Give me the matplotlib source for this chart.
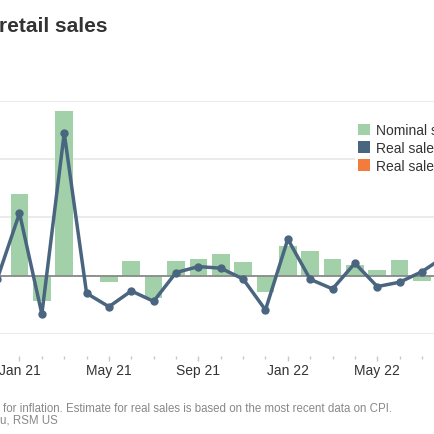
import matplotlib
matplotlib.use("Agg")
import matplotlib.pyplot as plt
from matplotlib.patches import Patch
import matplotlib.ticker as mticker

plt.rcParams['font.family'] = ['Liberation Sans', 'DejaVu Sans']

# Months indexed from Jan 2021 = 0
months = list(range(-1, 20))  # Dec 20 .. Aug 22
nominal = [-0.1, 5.56, -1.76, 11.25, 0.05, -0.41, 0.99, -1.51, 0.99, 1.12,
           1.49, 0.92, -1.12, 2.04, 1.72, 1.17, 0.75, 0.39, 1.06, -0.38, 0.3]
real = [-0.25, 4.28, -2.63, 9.77, -1.21, -2.13, -1.05, -1.76, 0.21, 0.62,
        0.51, -0.23, -2.35, 2.50, -0.25, -0.91, 0.85, -0.75, -0.45, 0.27, 1.3]
estimate_month = [19]
estimate_value = [1.3]

tick_pos = [0, 4, 8, 12, 16]
tick_labels = ['Jan 21', 'May 21', 'Sep 21', 'Jan 22', 'May 22']
yticks = [-4, 0, 4, 8, 12]

W = H = 435
fig = plt.figure(figsize=(4.35, 4.35), dpi=100)
fig.patch.set_facecolor('white')

top_px, bot_px = 101.5, 335.0
ax = fig.add_axes([0, 1 - bot_px / H, 1, (bot_px - top_px) / H])

green = '#a2d1a9'
blue = '#4a6580'
orange = '#f47b3c'

ax.bar(months, nominal, width=0.79, color=green, zorder=2)
ax.axhline(0, color='#8a8a8a', linewidth=1.3, zorder=3)
ax.plot(months, real, color=blue, linewidth=2.5, marker='o', markersize=5,
        zorder=4)
ax.plot(estimate_month, estimate_value, 'o', color=orange, markersize=5, zorder=5)

ax.set_yticks(yticks)
ax.yaxis.grid(True, color='#e8e8e8', linewidth=1.2)
ax.set_axisbelow(True)
ax.tick_params(axis='y', left=False, labelleft=False)

for s in ['top', 'left', 'right']:
    ax.spines[s].set_visible(False)
ax.spines['bottom'].set_position(('outward', 15.5))
ax.spines['bottom'].set_visible(False)

ax.set_xticks(tick_pos)
ax.set_xticklabels(tick_labels, fontsize=10, color='#333333')
ax.xaxis.set_minor_locator(mticker.MultipleLocator(1))
ax.tick_params(axis='x', which='major', length=3.5, width=1, color='#c8c8c8', pad=2)
ax.tick_params(axis='x', which='minor', length=2, width=1, color='#c8c8c8')

ax.set_xlim(-19.5 / 22.36, (435 - 19.5) / 22.36)
ax.set_ylim(-4, 12)

handles = [Patch(facecolor=green, edgecolor='none'),
           Patch(facecolor=blue, edgecolor='none'),
           Patch(facecolor=orange, edgecolor='none')]
labels = ['Nominal sales', 'Real sales', 'Real sales (estimate)']
leg = fig.legend(handles, labels, loc='upper left',
                 bbox_to_anchor=(355 / W, 1 - 121.5 / H), frameon=True,
                 fontsize=10, handlelength=0.9, handleheight=0.95,
                 handletextpad=0.4, labelspacing=0.28, borderpad=0.2,
                 borderaxespad=0)
leg.get_frame().set_facecolor('white')
leg.get_frame().set_edgecolor('none')
leg.get_frame().set_alpha(1)
for t in leg.get_texts():
    t.set_color('#333333')

fig.text(-1 / W, 1 - 32.5 / H, 'retail sales', fontsize=15, fontweight='bold',
         color='#333333', ha='left', va='baseline')
fig.text(3 / W, 1 - 409 / H,
         'for inflation. Estimate for real sales is based on the most recent data on CPI.',
         fontsize=8.3, color='#888888', ha='left', va='center')
fig.text(0 / W, 1 - 420.7 / H, 'u, RSM US', fontsize=8.3, color='#888888',
         ha='left', va='center')

fig.savefig('out.png', dpi=100, facecolor='white')
